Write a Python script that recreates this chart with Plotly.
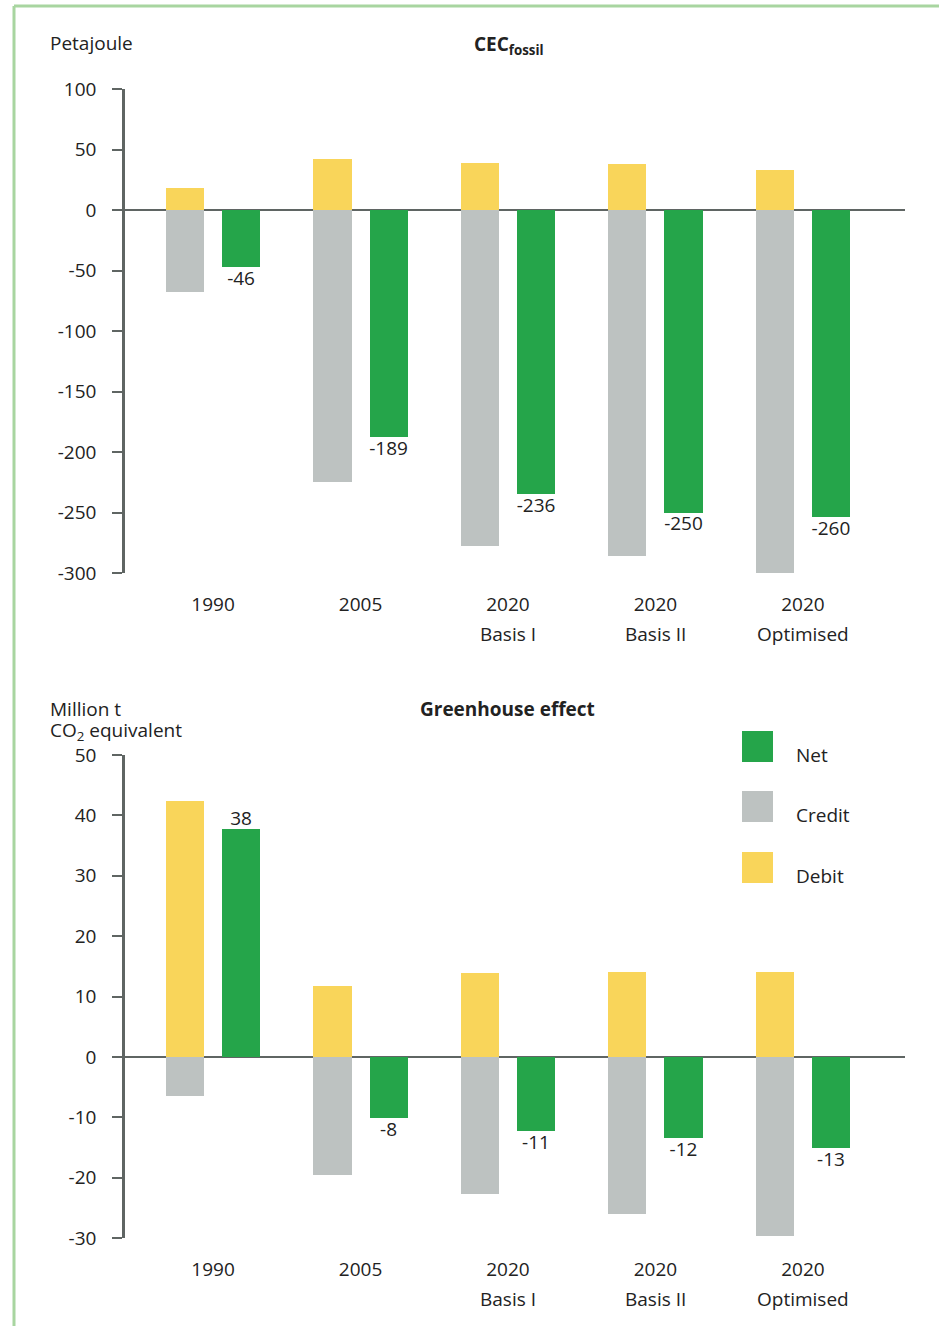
import plotly.graph_objects as go

# ---------------- data ----------------
categories = ["1990", "2005", "2020", "2020", "2020"]
sublabels = ["", "", "Basis I", "Basis II", "Optimised"]

# CEC fossil (Petajoule)
debit_pj = [18, 42, 39, 38, 33]
credit_pj = [-68, -225, -278, -286, -300]
net_pj = [-47, -188, -235, -250, -254]
net_pj_labels = ["-46", "-189", "-236", "-250", "-260"]

# Greenhouse effect (Million t CO2 equivalent)
debit_ghg = [42.3, 11.8, 13.9, 14.1, 14.1]
credit_ghg = [-6.5, -19.6, -22.7, -26.0, -29.6]
net_ghg = [37.7, -10.1, -12.3, -13.4, -15.1]
net_ghg_labels = ["38", "-8", "-11", "-12", "-13"]

y_ticks_pj = [100, 50, 0, -50, -100, -150, -200, -250, -300]
y_ticks_ghg = [50, 40, 30, 20, 10, 0, -10, -20, -30]

# ---------------- style ----------------
YELLOW = "#F9D55A"
GREY = "#BDC2C1"
GREEN = "#25A54A"
AXIS = "#5F6563"
TEXT = "#222222"
FONT = "Open Sans"
FS = 19

W, H = 939, 1326
xs = list(range(len(categories)))
BW = 0.258
OFF = 0.19


def py(px):
    return 1 - px / H


fig = go.Figure()


def add_panel(debit, credit, net, labels, xa, ya):
    fig.add_trace(go.Bar(x=xs, y=debit, width=BW, offset=-OFF - BW / 2,
                         marker=dict(color=YELLOW, line=dict(width=0)),
                         xaxis=xa, yaxis=ya, showlegend=False, hoverinfo="y"))
    fig.add_trace(go.Bar(x=xs, y=credit, width=BW, offset=-OFF - BW / 2,
                         marker=dict(color=GREY, line=dict(width=0)),
                         xaxis=xa, yaxis=ya, showlegend=False, hoverinfo="y"))
    fig.add_trace(go.Bar(x=xs, y=net, width=BW, offset=OFF - BW / 2,
                         marker=dict(color=GREEN, line=dict(width=0)),
                         xaxis=xa, yaxis=ya, showlegend=False, hoverinfo="y"))
    fig.add_trace(go.Scatter(x=[x + OFF for x in xs], y=net, mode="markers+text",
                             text=labels, cliponaxis=False,
                             marker=dict(size=[0 if v > 0 else 4 for v in net], opacity=0),
                             textposition=["top center" if v > 0 else "bottom center" for v in net],
                             textfont=dict(family=FONT, size=FS, color=TEXT),
                             xaxis=xa, yaxis=ya, showlegend=False, hoverinfo="skip"))


add_panel(debit_pj, credit_pj, net_pj, net_pj_labels, "x", "y")
add_panel(debit_ghg, credit_ghg, net_ghg, net_ghg_labels, "x2", "y2")

xdom = [125 / W, 905 / W]
xrange = [-0.597, 4.692]

xaxis_common = dict(range=xrange, domain=xdom, showgrid=False, zeroline=False,
                    showline=False, ticks="", tickvals=xs, ticktext=categories,
                    tickfont=dict(family=FONT, size=FS, color=TEXT),
                    ticklabelstandoff=18, automargin=False, fixedrange=True)
yaxis_common = dict(showgrid=False, showline=True, linecolor=AXIS, linewidth=2.5,
                    ticks="outside", ticklen=10, tickwidth=2, tickcolor=AXIS,
                    zeroline=True, zerolinecolor=AXIS, zerolinewidth=2,
                    tickfont=dict(family=FONT, size=FS, color=TEXT),
                    ticklabelstandoff=12, automargin=False, fixedrange=True)

fig.update_layout(
    width=W, height=H, margin=dict(l=0, r=0, t=0, b=0, autoexpand=False),
    paper_bgcolor="white", plot_bgcolor="white",
    barmode="overlay", bargap=0,
    font=dict(family=FONT, size=FS, color=TEXT),
    xaxis=dict(**xaxis_common, anchor="y"),
    yaxis=dict(**yaxis_common, range=[-300, 100], tickvals=y_ticks_pj,
               ticktext=[str(v) for v in y_ticks_pj],
               domain=[py(573), py(89)], anchor="x"),
    xaxis2=dict(**xaxis_common, anchor="y2"),
    yaxis2=dict(**yaxis_common, range=[-30, 50], tickvals=y_ticks_ghg,
                ticktext=[str(v) for v in y_ticks_ghg],
                domain=[py(1238), py(755)], anchor="x2"),
)

ann = []
# second line of category labels
for i, s in enumerate(sublabels):
    if s:
        for xr, ypx in (("x", 634), ("x2", 1299)):
            ann.append(dict(x=i, y=py(ypx), xref=xr, yref="paper", text=s,
                            showarrow=False, xanchor="center", yanchor="middle",
                            font=dict(family=FONT, size=FS, color=TEXT)))

ann += [
    dict(x=48 / W, y=py(43), xref="paper", yref="paper", text="Petajoule",
         showarrow=False, xanchor="left", yanchor="middle"),
    dict(x=509 / W, y=py(45), xref="paper", yref="paper",
         text="<b>CEC<sub>fossil</sub></b>", showarrow=False,
         xanchor="center", yanchor="middle"),
    dict(x=508 / W, y=py(709), xref="paper", yref="paper",
         text="<b>Greenhouse effect</b>", showarrow=False,
         xanchor="center", yanchor="middle"),
    dict(x=48 / W, y=py(709), xref="paper", yref="paper", text="Million t",
         showarrow=False, xanchor="left", yanchor="middle"),
    dict(x=48 / W, y=py(731), xref="paper", yref="paper",
         text="CO<sub>2</sub> equivalent", showarrow=False,
         xanchor="left", yanchor="middle"),
]

legend_items = [("Net", GREEN, 731), ("Credit", GREY, 791), ("Debit", YELLOW, 852)]
shapes = []
for name, col, top in legend_items:
    shapes.append(dict(type="rect", xref="paper", yref="paper",
                       x0=742 / W, x1=773 / W, y0=py(top + 31), y1=py(top),
                       fillcolor=col, line=dict(width=0)))
    ann.append(dict(x=794 / W, y=py(top + 24), xref="paper", yref="paper",
                    text=name, showarrow=False, xanchor="left", yanchor="middle"))

# light green frame (left and top)
shapes.append(dict(type="line", xref="paper", yref="paper", x0=14 / W, x1=14 / W,
                   y0=0, y1=py(6), line=dict(color="#A8D5A0", width=3)))
shapes.append(dict(type="line", xref="paper", yref="paper", x0=14 / W, x1=1,
                   y0=py(6), y1=py(6), line=dict(color="#A8D5A0", width=3)))

fig.update_layout(annotations=ann, shapes=shapes)

fig.write_html("out.html", config={"displayModeBar": False},
               post_script="document.body.style.margin='0';")
